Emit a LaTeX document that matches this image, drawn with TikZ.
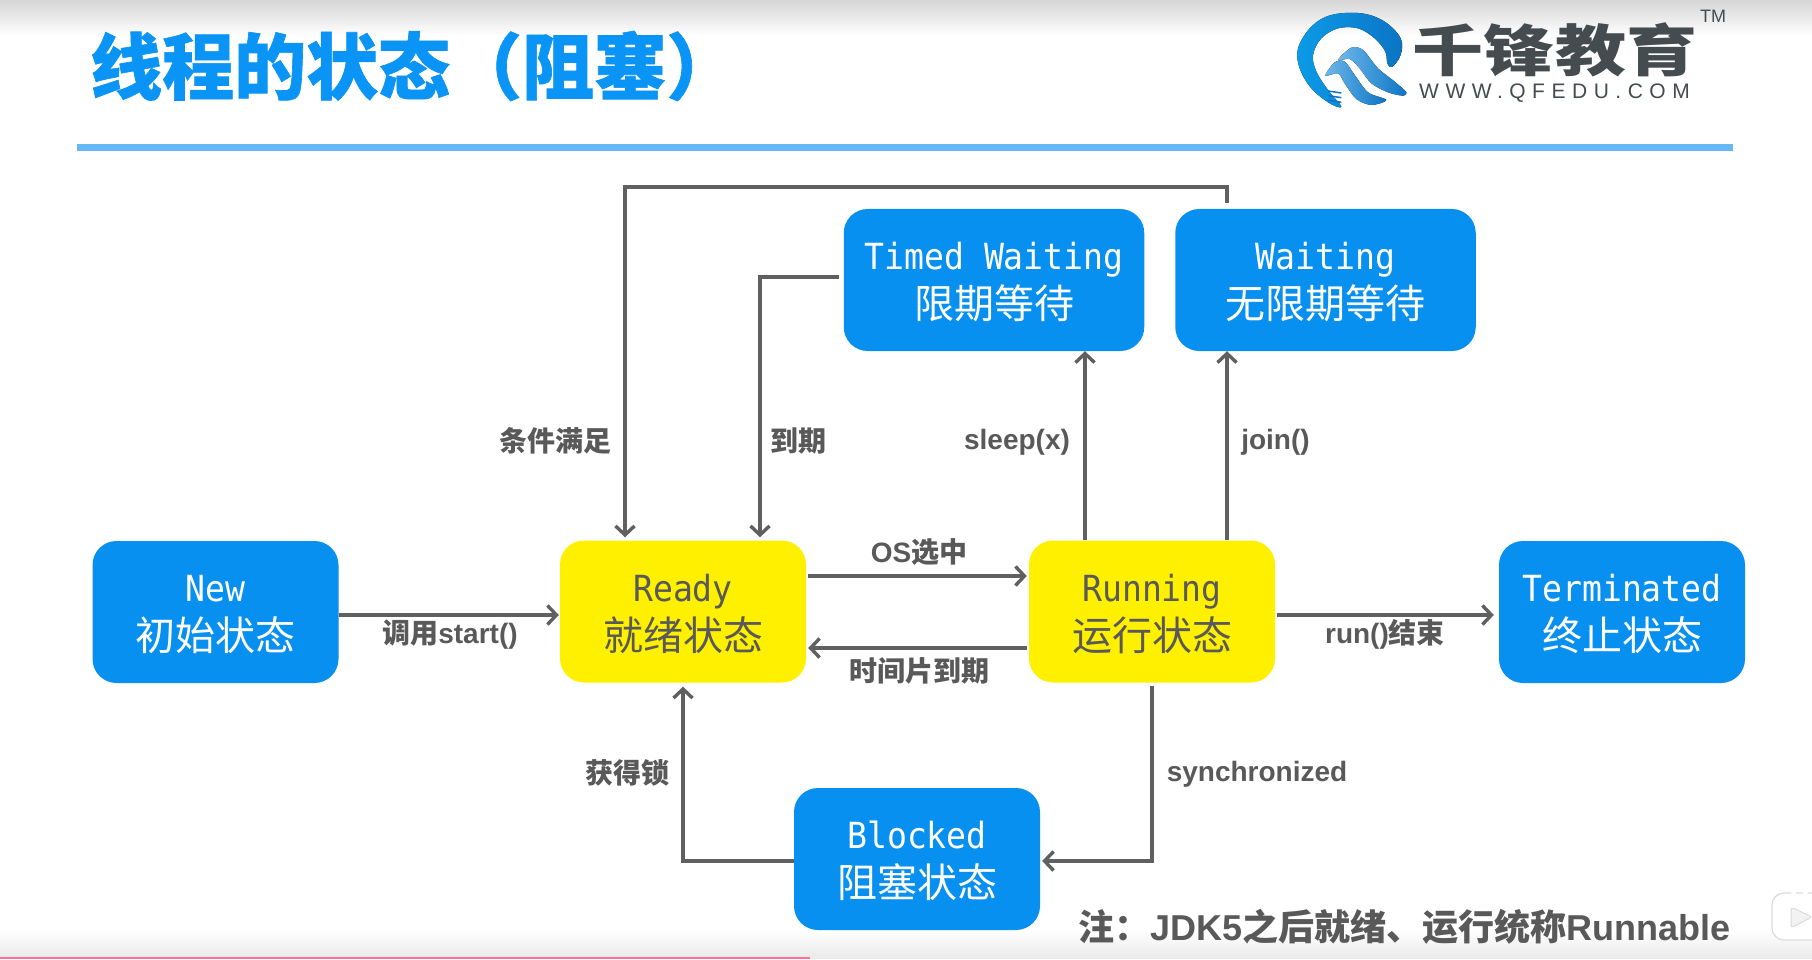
\documentclass[tikz,border=0pt]{standalone}
\usepackage{fontspec}
\usetikzlibrary{arrows.meta}
\setmainfont{Liberation Sans}
\newfontfamily\cjkfont{Noto Sans CJK SC}
\newfontfamily\titlefont[BoldFeatures={FakeBold=0.9}]{Noto Sans CJK SC}
\newfontfamily\latinfont[FakeStretch=0.92]{DejaVu Sans Mono}
\newfontfamily\urlfont[LetterSpace=31]{Liberation Sans}
\newcommand{\zh}[1]{{\cjkfont\bfseries #1}}
\newcommand{\twolines}[2]{\rule{0pt}{32pt}#1\\{\fontsize{40}{49}\selectfont\cjkfont #2}}
\definecolor{boxblue}{HTML}{0890F0}
\definecolor{boxyellow}{HTML}{FFF000}
\definecolor{titleblue}{HTML}{0A94F5}
\definecolor{ruleblue}{HTML}{66B8F5}
\definecolor{linegray}{HTML}{606060}
\definecolor{inkgray}{HTML}{595959}
\definecolor{logogray}{HTML}{454C4F}
\definecolor{barpink}{HTML}{FB6F99}
\definecolor{ringlight}{HTML}{0B9BE8}
\definecolor{ringdark}{HTML}{0B74C4}
\definecolor{wavelight}{HTML}{6DB8EA}
\tikzset{
	statebox/.style={rounded corners=24pt, minimum width=246pt, minimum height=142pt, inner sep=0pt, align=center, font=\fontsize{36}{49}\selectfont\latinfont},
	bluebox/.style={statebox, fill=boxblue, text=white},
	yellowbox/.style={statebox, fill=boxyellow, text=inkgray},
	flow/.style={->, line width=3.4pt, color=linegray},
	edgelabel/.style={text=inkgray, inner sep=0pt, font=\fontsize{28}{34}\selectfont\bfseries},
}
\begin{document}
\begin{tikzpicture}[x=1pt, y=-1pt, >={Straight Barb[length=9pt,width=19pt,line width=3.4pt]}]
	\useasboundingbox (0,0) rectangle (1812,960);
	\clip (0,0) rectangle (1812,960);
	% page, top and bottom fades
	\fill[white] (0,0) rectangle (1812,960);
	\fill[top color=black!16, bottom color=white] (0,0) rectangle (1812,36);
	\fill[top color=white, bottom color=black!8] (0,930) rectangle (1812,957);
	\fill[black!8] (810,957) rectangle (1812,959);
	\fill[barpink] (0,957) rectangle (810,959);
	% heading
	\node[anchor=west, inner sep=0pt, text=titleblue, font=\fontsize{72}{80}\selectfont\titlefont\bfseries] (heading) at (90,66) {线程的状态（阻塞）};
	\fill[ruleblue] (77,144) rectangle (1733,151);
	% logo
	\begin{scope}[shift={(1288,5)}, x=.3333pt, y=-.3333pt]
		\fill[left color=ringlight, right color=ringdark] plot[smooth cycle, tension=.6] coordinates {(312,186) (338,150) (338,100) (290,50) (220,25) (130,30) (70,65) (30,130) (35,190) (70,250) (125,295) (160,305) (120,255) (85,200) (75,150) (100,100) (150,70) (210,70) (260,100) (292,140) (298,175)};
		\fill[left color=wavelight, right color=ringdark] plot[smooth cycle, tension=.5] coordinates {(150,165) (190,128) (225,135) (270,190) (320,230) (355,262) (345,272) (300,262) (250,235) (215,190) (185,162)};
		\fill[left color=wavelight, right color=ringdark] plot[smooth cycle, tension=.5] coordinates {(112,212) (140,172) (170,170) (200,210) (240,262) (295,285) (250,300) (205,282) (170,235) (150,205)};
		\foreach \yy in {258,272,286}
		\draw[ringdark, line width=1.5pt] (120,\yy) -- (160,\yy+6);
	\end{scope}
	\node[anchor=center, inner sep=0pt, text=logogray, xscale=1.27, transform shape, font=\fontsize{56}{62}\selectfont\cjkfont\bfseries] (logotext) at (1555,50) {千锋教育};
	\node[anchor=west, inner sep=0pt, text=logogray, font=\fontsize{21}{24}\selectfont\urlfont] (logourl) at (1419,93) {WWW.QFEDU.COM};
	\node[anchor=west, inner sep=0pt, text=logogray, font=\fontsize{18}{20}\selectfont] (logotm) at (1700,16) {TM};
	% states
	\node[bluebox] (new) at (215.5,612) {\twolines{New}{初始状态}};
	\node[yellowbox] (ready) at (683,611.5) {\twolines{Ready}{就绪状态}};
	\node[yellowbox] (running) at (1152,611.5) {\twolines{Running}{运行状态}};
	\node[bluebox] (term) at (1622,612) {\twolines{Terminated}{终止状态}};
	\node[bluebox, minimum width=300.5pt] (timed) at (994,280) {\twolines{Timed Waiting}{限期等待}};
	\node[bluebox, minimum width=300.5pt] (wait) at (1325.5,280) {\twolines{Waiting}{无限期等待}};
	\node[bluebox] (blocked) at (917,859) {\twolines{Blocked}{阻塞状态}};
	% transitions
	\coordinate (topleft) at (625,187);
	\draw[flow, shorten <=6pt, shorten >=3pt] ([xshift=-98.5pt]wait.north) |- (topleft) -- (topleft |- ready.north);
	\draw[flow, shorten <=4.5pt, shorten >=3pt] ([yshift=3pt]timed.west) -| ([xshift=77pt]ready.north);
	\draw[flow] ([xshift=-67pt]running.north) -- ([xshift=91pt]timed.south);
	\draw[flow] ([xshift=75pt]running.north) -- ([xshift=-98.5pt]wait.south);
	\draw[flow, shorten >=1pt] ([yshift=-3pt]new.east) -- ([yshift=-3.5pt]ready.west);
	\draw[flow, shorten <=2pt, shorten >=2pt] ([yshift=35.5pt]ready.east) -- ([yshift=35.5pt]running.west);
	\draw[flow, shorten <=2pt, shorten >=2pt] ([yshift=-36.5pt]running.west) -- ([yshift=-36.5pt]ready.east);
	\draw[flow, shorten <=2pt, shorten >=5pt] ([yshift=-3.5pt]running.east) -- ([yshift=-3pt]term.west);
	\draw[flow, shorten <=3pt, shorten >=2pt] (running.south) |- ([yshift=-2pt]blocked.east);
	\draw[flow, shorten >=4pt] ([yshift=-2pt]blocked.west) -| (ready.south);
	% labels
	\node[edgelabel] (lmet) at (555,441) {\zh{条件满足}};
	\node[edgelabel] (lexpire) at (798.5,441) {\zh{到期}};
	\node[edgelabel] (lsleep) at (1017,442) {sleep(x)};
	\node[edgelabel] (ljoin) at (1275.5,442) {join()};
	\node[edgelabel] (lstart) at (450,635) {\zh{调用}start()};
	\node[edgelabel] (los) at (919,552) {OS\zh{选中}};
	\node[edgelabel] (lslice) at (919,671) {\zh{时间片到期}};
	\node[edgelabel] (lrun) at (1385,634) {run()\zh{结束}};
	\node[edgelabel] (llock) at (627,773) {\zh{获得锁}};
	\node[edgelabel] (lsync) at (1257,774) {synchronized};
	\node[edgelabel, anchor=west, font=\fontsize{36}{40}\selectfont\bfseries] (note) at (1078,927) {\zh{注：}JDK5\zh{之后就绪、运行统称}Runnable};
	% play badge
	\draw[black!14, line width=1.2pt, fill=white, rounded corners=12pt] (1772,893) rectangle (1840,940);
	\draw[white, line width=4pt, line cap=round] (1787,885) -- (1794,893) (1812,885) -- (1805,893);
	\draw[black!14, fill=black!5, line width=1pt, rounded corners=3pt] (1791,907) -- (1812,917) -- (1791,928) -- cycle;
\end{tikzpicture}
\end{document}
